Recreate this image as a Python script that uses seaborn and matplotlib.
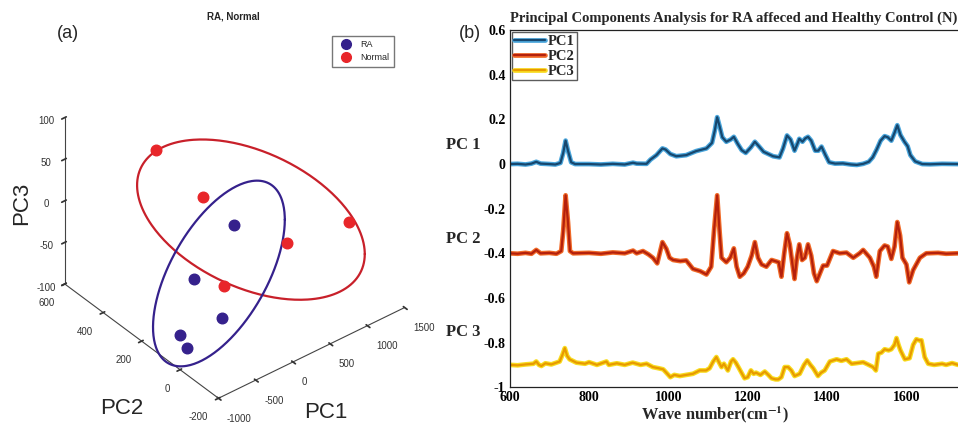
import numpy as np
import pandas as pd
import matplotlib
matplotlib.use("Agg")
import matplotlib.pyplot as plt
import matplotlib.patheffects as pe
from matplotlib.lines import Line2D
import seaborn as sns

# ---- (a) PCA scores (PC1, PC2, PC3) ----
normal_pc1 = [-290, -180, 440, 1270, -410]
normal_pc2 = [400, 200, 0, 0, 0]
normal_pc3 = [64, 38, -11, -21, -25]
ra_pc1 = [240, -290, -435, -900, -905]
ra_pc2 = [200, 200, 0, 40, 0]
ra_pc3 = [-14, -56, -63, -70, -78]

# confidence ellipses: centre and two semi-axis vectors (data units)
normal_ell_centre = [468, 200, -18]
normal_ell_u = [1529, 0, -108]
normal_ell_v = [0, 0, -87]
ra_ell_centre = [38, 200, -64]
ra_ell_u = [885, 0, 26]
ra_ell_v = [0, 0, -91]

# ---- (b) loadings ----
pc1_wn = [600, 620, 640, 655, 667, 678, 700, 715, 728, 735, 741, 747, 755, 765, 800, 830, 860, 890,
          911, 920, 945, 955, 970, 985, 993, 1005, 1020, 1045, 1070, 1096, 1110, 1117, 1123, 1129,
          1136, 1146, 1157, 1165, 1175, 1185, 1195, 1208, 1218, 1228, 1240, 1264, 1280, 1289, 1299,
          1308, 1318, 1325, 1330, 1338, 1345, 1352, 1360, 1370, 1378, 1386, 1396, 1405, 1420, 1440,
          1460, 1475, 1491, 1505, 1515, 1525, 1535, 1545, 1553, 1562, 1570, 1577, 1585, 1595, 1603,
          1610, 1622, 1640, 1660, 1690, 1730]
pc1_val = [0, 0.001, -0.002, 0.002, 0.01, 0.002, 0, -0.002, 0.005, 0.05, 0.105, 0.06, 0.008, 0, 0,
           -0.002, 0.001, -0.002, 0.006, 0.002, 0.001, 0.02, 0.04, 0.07, 0.065, 0.045, 0.035, 0.04,
           0.058, 0.07, 0.095, 0.15, 0.21, 0.17, 0.12, 0.10, 0.11, 0.122, 0.09, 0.062, 0.05, 0.075,
           0.1, 0.08, 0.055, 0.035, 0.03, 0.07, 0.128, 0.11, 0.06, 0.09, 0.113, 0.10, 0.115, 0.122,
           0.105, 0.06, 0.06, 0.078, 0.04, 0.008, 0.002, 0.003, -0.002, -0.004, 0.001, 0.01, 0.03,
           0.065, 0.105, 0.125, 0.12, 0.105, 0.14, 0.174, 0.13, 0.1, 0.08, 0.04, 0.012, 0.0, -0.001,
           0.001, 0]

pc2_wn = [600, 620, 640, 655, 667, 678, 700, 718, 730, 735, 741, 747, 752, 760, 800, 830, 860, 890,
          911, 920, 936, 950, 961, 972, 985, 995, 1003, 1012, 1030, 1045, 1062, 1080, 1096, 1108,
          1115, 1123, 1129, 1134, 1146, 1156, 1165, 1172, 1180, 1190, 1200, 1210, 1218, 1226, 1235,
          1247, 1260, 1278, 1285, 1292, 1299, 1306, 1312, 1318, 1324, 1330, 1337, 1344, 1352, 1360,
          1367, 1374, 1382, 1390, 1400, 1415, 1432, 1449, 1466, 1482, 1491, 1508, 1518, 1524, 1533,
          1545, 1553, 1562, 1570, 1577, 1584, 1590, 1600, 1607, 1617, 1634, 1650, 1680, 1700, 1730]
pc2_val = [-0.4, -0.402, -0.398, -0.402, -0.385, -0.4, -0.398, -0.402, -0.39, -0.3, -0.14, -0.26,
           -0.39, -0.4, -0.398, -0.402, -0.396, -0.4, -0.388, -0.4, -0.39, -0.405, -0.42, -0.445,
           -0.35, -0.38, -0.42, -0.43, -0.435, -0.432, -0.47, -0.48, -0.495, -0.46, -0.3, -0.14,
           -0.3, -0.42, -0.44, -0.42, -0.378, -0.46, -0.505, -0.49, -0.46, -0.41, -0.35, -0.42,
           -0.45, -0.46, -0.43, -0.44, -0.505, -0.4, -0.31, -0.36, -0.44, -0.515, -0.42, -0.36,
           -0.43, -0.42, -0.36, -0.41, -0.49, -0.525, -0.49, -0.455, -0.455, -0.39, -0.4, -0.397,
           -0.42, -0.4, -0.385, -0.42, -0.46, -0.505, -0.39, -0.365, -0.37, -0.425, -0.37, -0.26,
           -0.32, -0.42, -0.45, -0.53, -0.475, -0.42, -0.4, -0.398, -0.402, -0.4]

pc3_wn = [600, 620, 640, 660, 667, 674, 680, 690, 705, 726, 733, 739, 745, 751, 768, 790, 800, 820,
          844, 850, 870, 890, 910, 930, 945, 961, 975, 987, 1000, 1005, 1015, 1029, 1045, 1062, 1079,
          1095, 1104, 1113, 1121, 1128, 1134, 1140, 1150, 1158, 1163, 1170, 1178, 1192, 1200, 1208,
          1215, 1221, 1232, 1243, 1252, 1260, 1270, 1277, 1285, 1293, 1302, 1310, 1318, 1331, 1342,
          1350, 1358, 1365, 1377, 1385, 1394, 1407, 1424, 1436, 1449, 1462, 1475, 1491, 1505, 1516,
          1523, 1529, 1537, 1545, 1555, 1562, 1570, 1575, 1580, 1585, 1596, 1608, 1617, 1625, 1632,
          1638, 1646, 1655, 1670, 1690, 1700, 1715, 1730]
pc3_val = [-0.9, -0.902, -0.898, -0.895, -0.885, -0.9, -0.905, -0.893, -0.898, -0.885, -0.855,
           -0.825, -0.86, -0.875, -0.89, -0.895, -0.888, -0.9, -0.885, -0.9, -0.893, -0.9, -0.89,
           -0.9, -0.895, -0.91, -0.915, -0.92, -0.945, -0.955, -0.945, -0.95, -0.945, -0.94,
           -0.925, -0.925, -0.915, -0.885, -0.865, -0.89, -0.91, -0.895, -0.925, -0.885, -0.875,
           -0.89, -0.915, -0.96, -0.955, -0.925, -0.94, -0.935, -0.945, -0.93, -0.945, -0.96,
           -0.965, -0.965, -0.955, -0.91, -0.91, -0.925, -0.95, -0.94, -0.9, -0.88, -0.9, -0.915,
           -0.95, -0.935, -0.925, -0.885, -0.875, -0.882, -0.875, -0.895, -0.892, -0.888, -0.9,
           -0.91, -0.925, -0.85, -0.845, -0.83, -0.835, -0.83, -0.81, -0.78, -0.81, -0.835, -0.875,
           -0.87, -0.81, -0.785, -0.79, -0.79, -0.865, -0.895, -0.9, -0.895, -0.9, -0.892, -0.9]

x_ticks = [600, 800, 1000, 1200, 1400, 1600]
y_ticks = [-1, -0.8, -0.6, -0.4, -0.2, 0, 0.2, 0.4, 0.6]
y_ticklabels = ["-1", "-0.8", "-0.6", "-0.4", "-0.2", "0", "0.2", "0.4", "0.6"]

sns.set_theme(style="white")
plt.rcParams["font.family"] = ["Liberation Sans", "DejaVu Sans"]
plt.rcParams["mathtext.fontset"] = "stix"
plt.rcParams["axes.unicode_minus"] = False

fig = plt.figure(figsize=(9.58, 4.25), dpi=100)

# ================= (a) 3-D score plot =================
ax = fig.add_axes([-0.031, 0.030, 0.541, 0.915], projection="3d")
ax.set_proj_type("ortho")
ax.view_init(elev=37, azim=-129)
ax.set_box_aspect((1, 1.02, 0.87))

RA_COL = "#35218c"
N_COL = "#e8262a"
ax.scatter(ra_pc1, ra_pc2, ra_pc3, color=RA_COL, s=58, depthshade=False, label="RA")
ax.scatter(normal_pc1, normal_pc2, normal_pc3, color=N_COL, s=58, depthshade=False, label="Normal")

t = np.linspace(0, 2 * np.pi, 300)
for c, u, v, col in [(normal_ell_centre, normal_ell_u, normal_ell_v, "#c8202a"),
                     (ra_ell_centre, ra_ell_u, ra_ell_v, "#35218c")]:
    c, u, v = np.array(c), np.array(u), np.array(v)
    pts = c[:, None] + u[:, None] * np.cos(t) + v[:, None] * np.sin(t)
    ax.plot(pts[0], pts[1], pts[2], color=col, lw=1.6)

ax.set_xlim(-1000, 1500)
ax.set_ylim(-200, 600)
ax.set_zlim(-100, 100)
ax.set_xticks([-1000, -500, 0, 500, 1000, 1500])
ax.set_yticks([-200, 0, 200, 400, 600])
ax.set_zticks([-100, -50, 0, 50, 100])
ax.grid(False)
for axis in (ax.xaxis, ax.yaxis, ax.zaxis):
    axis.set_pane_color((1, 1, 1, 0))
    axis.pane.set_edgecolor((1, 1, 1, 0))
    axis.line.set_color("#444444")
    axis.line.set_linewidth(0.8)
ax.tick_params(labelsize=7, colors="#333333", pad=0)
for lbl in ax.get_xticklabels():
    lbl.set_horizontalalignment("left")
for lbl in ax.get_yticklabels():
    lbl.set_horizontalalignment("right")

fig.text(0.340, 0.030, "PC1", fontsize=16, ha="center", va="center")
fig.text(0.127, 0.040, "PC2", fontsize=16, ha="center", va="center")
fig.text(0.023, 0.522, "PC3", fontsize=16, ha="center", va="center", rotation=90)
fig.text(0.244, 0.962, "RA, Normal", fontsize=7, fontweight="bold", ha="center", va="center")
fig.text(0.071, 0.922, "(a)", fontsize=13, ha="center", va="center")
fig.text(0.491, 0.922, "(b)", fontsize=13, ha="center", va="center")

fig.legend(handles=[Line2D([], [], ls="", marker="o", color=RA_COL, markersize=7, label="RA"),
                    Line2D([], [], ls="", marker="o", color=N_COL, markersize=7, label="Normal")],
           loc="upper left", bbox_to_anchor=(0.342, 0.926), fontsize=6.5, frameon=True,
           fancybox=False, edgecolor="#555555", handletextpad=0.6, borderpad=0.5,
           labelspacing=0.4)

# ================= (b) loadings =================
loadings = pd.concat([
    pd.DataFrame({"wn": pc1_wn, "val": pc1_val, "pc": "PC1"}),
    pd.DataFrame({"wn": pc2_wn, "val": pc2_val, "pc": "PC2"}),
    pd.DataFrame({"wn": pc3_wn, "val": pc3_val, "pc": "PC3"}),
])
core = {"PC1": "#17476e", "PC2": "#b4200c", "PC3": "#e89a00"}
halo = {"PC1": "#4aa6dc", "PC2": "#f06a28", "PC3": "#f8dc20"}

ax2 = fig.add_axes([0.532, 0.089, 0.468, 0.840])
sns.lineplot(data=loadings, x="wn", y="val", hue="pc", palette=core, estimator=None,
             sort=False, lw=1.6, ax=ax2, legend=False)
for line, name in zip(ax2.lines, ["PC1", "PC2", "PC3"]):
    line.set_path_effects([pe.Stroke(linewidth=3.4, foreground=halo[name]), pe.Normal()])

serif = ["Liberation Serif", "DejaVu Serif"]
ax2.set_xlim(600, 1730)
ax2.set_ylim(-1, 0.6)
ax2.set_xticks(x_ticks)
ax2.set_xticklabels([str(v) for v in x_ticks], fontfamily=serif, fontweight="bold", fontsize=10)
ax2.set_yticks(y_ticks)
ax2.set_yticklabels(y_ticklabels, fontfamily=serif, fontweight="bold", fontsize=10)
ax2.tick_params(direction="in", length=3, width=0.8, pad=3, colors="black")
ax2.tick_params(axis="x", pad=2.5)
ax2.spines["right"].set_visible(False)
for s in ("left", "bottom", "top"):
    ax2.spines[s].set_color("#222222")
    ax2.spines[s].set_linewidth(0.9)
ax2.set_xlabel("")
ax2.set_ylabel("")

handles = []
for name in ["PC1", "PC2", "PC3"]:
    h = Line2D([], [], color=core[name], lw=1.6, label=name,
               path_effects=[pe.Stroke(linewidth=3.4, foreground=halo[name]), pe.Normal()])
    handles.append(h)
ax2.legend(handles=handles, loc="upper left", prop={"family": serif, "weight": "bold", "size": 10.5},
           frameon=True, fancybox=False, edgecolor="#333333", borderpad=0.15, labelspacing=0.12,
           handlelength=2.1, handletextpad=0.2, borderaxespad=0.15)

fig.text(0.532, 0.958, "Principal Components Analysis for RA affeced and Healthy Control (N)",
         fontfamily=serif, fontweight="bold", fontsize=10.55, ha="left", va="center")
fig.text(0.746, 0.024, r"Wave number(cm$^{\mathbf{-1}}$)", fontfamily=serif, fontweight="bold",
         fontsize=11.8, ha="center", va="center")
for lab, yy in [("PC 1", 0.659), ("PC 2", 0.437), ("PC 3", 0.219)]:
    fig.text(0.466, yy, lab, fontfamily=serif, fontweight="bold", fontsize=12, ha="left", va="center")

fig.savefig("out.png", dpi=100)
